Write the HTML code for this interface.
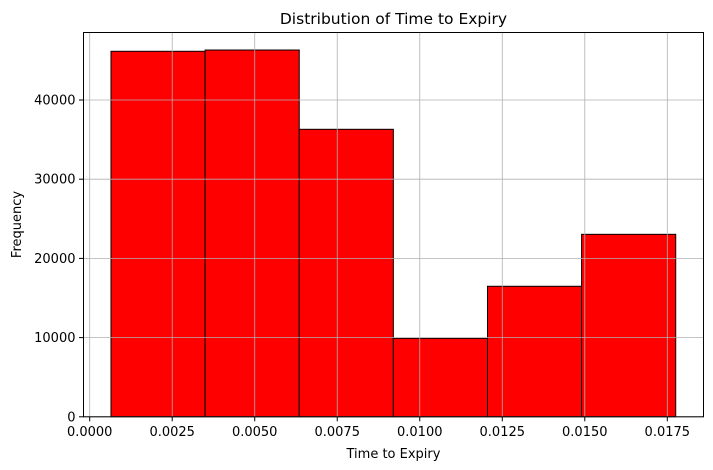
<!DOCTYPE html>
<html><head><meta charset="utf-8"><style>
body{margin:0;background:#fff;}
svg{display:block;font-family:"DejaVu Sans","Liberation Sans",sans-serif;}
</style></head><body>
<svg id="chart" width="713" height="470" viewBox="0 0 713 470" xmlns="http://www.w3.org/2000/svg"></svg>
<script>
const binEdges = [0.000645, 0.003497, 0.006349, 0.009200, 0.012052, 0.014903, 0.017755];
const counts = [46150, 46310, 36300, 9910, 16480, 23040];
const xTicks = [0, 0.0025, 0.005, 0.0075, 0.01, 0.0125, 0.015, 0.0175];
const xTickLabels = ["0.0000","0.0025","0.0050","0.0075","0.0100","0.0125","0.0150","0.0175"];
const yTicks = [0, 10000, 20000, 30000, 40000];
const yTickLabels = ["0","10000","20000","30000","40000"];

const L=83.5, R=703.5, T=32.5, B=416.8;
const x = v => 89.7 + v*33006;
const y = v => B - v*0.00792;
const svg = document.getElementById('chart');
const NS='http://www.w3.org/2000/svg';
function mk(tag, attrs, parent){const e=document.createElementNS(NS,tag);for(const k in attrs)e.setAttribute(k,attrs[k]);(parent||svg).appendChild(e);return e;}

const bars = mk('g',{});


counts.forEach((c,i)=>{
  const r=mk('rect',{x:x(binEdges[i]),y:y(c),width:x(binEdges[i+1])-x(binEdges[i]),height:B-y(c),fill:'#ff0000',stroke:'#000','stroke-width':1},bars);
  
  
});
const grid = mk('g',{stroke:'#b0b0b0','stroke-width':0.8});


xTicks.forEach(t=>{mk('line',{x1:x(t),x2:x(t),y1:T,y2:B},grid);});
yTicks.forEach(t=>{mk('line',{x1:L,x2:R,y1:y(t),y2:y(t)},grid);});

const frame=mk('rect',{x:L,y:T,width:R-L,height:B-T,fill:'none',stroke:'#000','stroke-width':1});



const xa=mk('g',{});


xTicks.forEach((t,i)=>{
  mk('line',{x1:x(t),x2:x(t),y1:B,y2:B+4.5,stroke:'#000'},xa);
  const tx=mk('text',{x:x(t),y:B+19,'text-anchor':'middle','font-size':13,fill:'#000'},xa);
  tx.textContent=xTickLabels[i];
  
  
});
const ya=mk('g',{});


yTicks.forEach((t,i)=>{
  mk('line',{x1:L-4.5,x2:L,y1:y(t),y2:y(t),stroke:'#000'},ya);
  const tx=mk('text',{x:L-8,y:y(t)+4.5,'text-anchor':'end','font-size':13,fill:'#000'},ya);
  tx.textContent=yTickLabels[i];
  
  
});
const xt=mk('text',{x:393.5,y:458,'text-anchor':'middle','font-size':13,fill:'#000'});
xt.textContent='Time to Expiry';


const yt=mk('text',{x:0,y:0,transform:'translate(21,224.5) rotate(-90)','text-anchor':'middle','font-size':13,fill:'#000'});
yt.textContent='Frequency';


const title=mk('text',{x:393.5,y:24,'text-anchor':'middle','font-size':15.5,fill:'#000'});
title.textContent='Distribution of Time to Expiry';


</script>
</body></html>
